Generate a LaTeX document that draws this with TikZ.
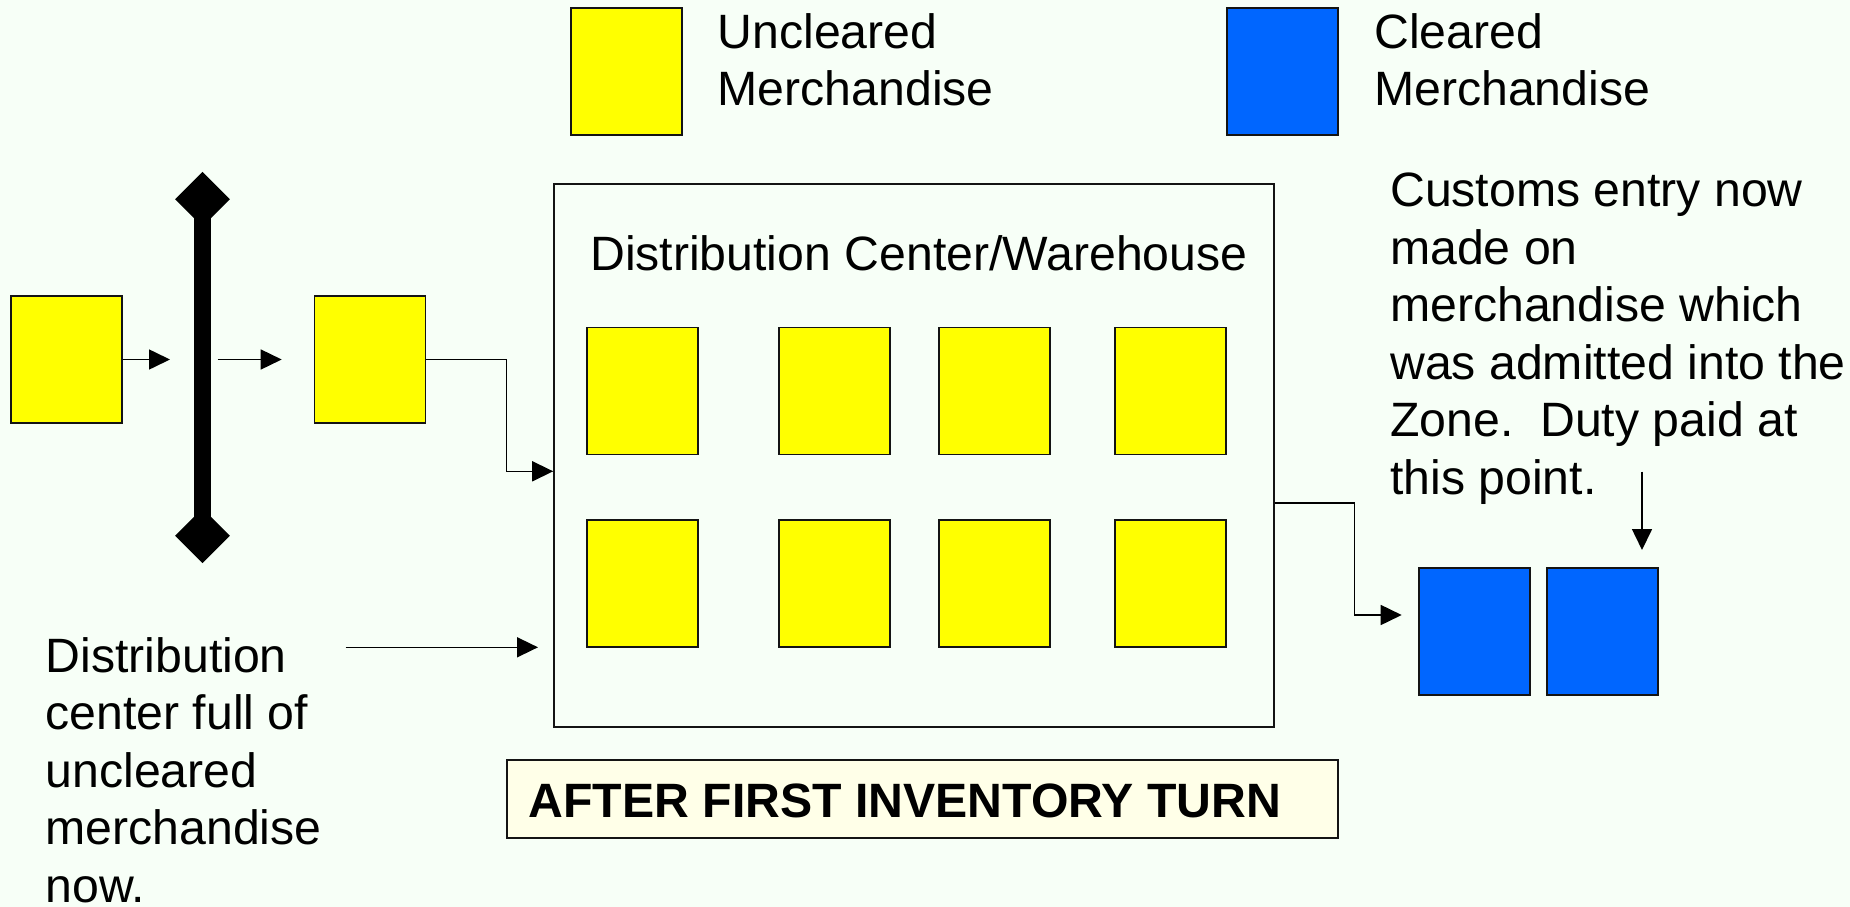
\documentclass[tikz,border=0pt]{standalone}
\usepackage{fontspec}
\setmainfont{Liberation Sans}
\usetikzlibrary{arrows.meta,shapes.geometric}
\definecolor{bgmint}{RGB}{247,255,247}
\definecolor{ybox}{RGB}{255,255,0}
\definecolor{bbox}{RGB}{0,102,255}
\definecolor{tfill}{RGB}{255,255,232}
\definecolor{edge}{RGB}{20,20,20}
\newcommand{\mlines}[1]{\begin{tabular}[t]{@{}l@{}}#1\end{tabular}}
\tikzset{
  crate/.style={draw=edge, line width=1.6pt, minimum width=111pt, minimum height=127pt, inner sep=0pt},
  ycrate/.style={crate, fill=ybox},
  bcrate/.style={crate, fill=bbox},
  arr/.style={draw=black, line width=1.6pt, -{Triangle[length=21pt,width=20pt]}},
  txt/.style={inner sep=0pt, anchor=base west, font=\fontsize{48.2}{57.5}\selectfont},
}
\begin{document}
\begin{tikzpicture}[x=1pt,y=-1pt]
\useasboundingbox (0,0) rectangle (1850,907);
\fill[bgmint] (0,0) rectangle (1850,907);

% legend
\node[ycrate] (ly) at (626.3,71.5) {};
\node[txt] (lyt) at (717.5,48.3) {\mlines{Uncleared\\Merchandise}};
\node[bcrate] (lb) at (1282.3,71.5) {};
\node[txt] (lbt) at (1374,48.3) {\mlines{Cleared\\Merchandise}};

% left boxes and gate
\node[ycrate] (b1) at (66.5,359.5) {};
\node[ycrate] (b2) at (370,359.5) {};
\node[diamond, fill=black, inner sep=0pt, minimum width=55pt, minimum height=55pt] (gt) at (202.5,199.3) {};
\node[diamond, fill=black, inner sep=0pt, minimum width=55pt, minimum height=55pt] (gb) at (202.5,535.7) {};
\draw[line width=17pt] (gt.center) -- (gb.center);
\coordinate (g1) at (170,359.5);
\coordinate (g2s) at (217.7,359.5);
\coordinate (g2e) at (281.7,359.5);
\draw[arr] (b1.east) -- (g1);
\draw[arr] (g2s) -- (g2e);

% distribution center
\node[draw=edge, line width=1.6pt, minimum width=720pt, minimum height=543pt, inner sep=0pt] (dc) at (914,455.5) {};
\node[txt] (dct) at (590,270) {Distribution Center/Warehouse};
\node[ycrate] (w11) at (642.3,391) {};
\node[ycrate] (w12) at (834.3,391) {};
\node[ycrate] (w13) at (994.5,391) {};
\node[ycrate] (w14) at (1170.4,391) {};
\node[ycrate] (w21) at (642.3,583.4) {};
\node[ycrate] (w22) at (834.3,583.4) {};
\node[ycrate] (w23) at (994.5,583.4) {};
\node[ycrate] (w24) at (1170.4,583.4) {};

% connector into DC
\coordinate (j1) at (506.3,471.3);
\draw[arr] (b2.east) -| (j1) -- (j1 -| dc.west);

% left note and arrow
\node[txt] (lnote) at (45.5,672.3) {\mlines{Distribution\\center full of\\uncleared\\merchandise\\now.}};
\coordinate (s3) at (345.7,647.3);
\coordinate (e3) at (538,647.3);
\draw[arr] (s3) -- (e3);

% cleared boxes
\node[bcrate] (c1) at (1474.5,631.5) {};
\node[bcrate] (c2) at (1602.2,631.5) {};
\coordinate (j2) at (1354.3,502.7);
\coordinate (e4) at (1401.7,615);
\draw[arr] (j2 -| dc.east) -- (j2) |- (e4);

% right note and arrow
\node[txt] (rnote) at (1390,206.7) {\mlines{Customs entry now\\made on\\merchandise which\\was admitted into the\\Zone.\ \ Duty paid at\\this point.}};
\coordinate (d0) at (1642,471.7);
\coordinate (d1) at (1642,550);
\draw[arr] (d0) -- (d1);

% title box
\node[draw=edge, line width=1.6pt, fill=tfill, minimum width=831pt, minimum height=78pt, inner sep=0pt] (tbox) at (922.5,799.2) {};
\node[txt, font=\fontsize{48.2}{57.5}\selectfont\bfseries] (ttl) at (528.5,817.3) {AFTER FIRST INVENTORY TURN};
\end{tikzpicture}
\end{document}
